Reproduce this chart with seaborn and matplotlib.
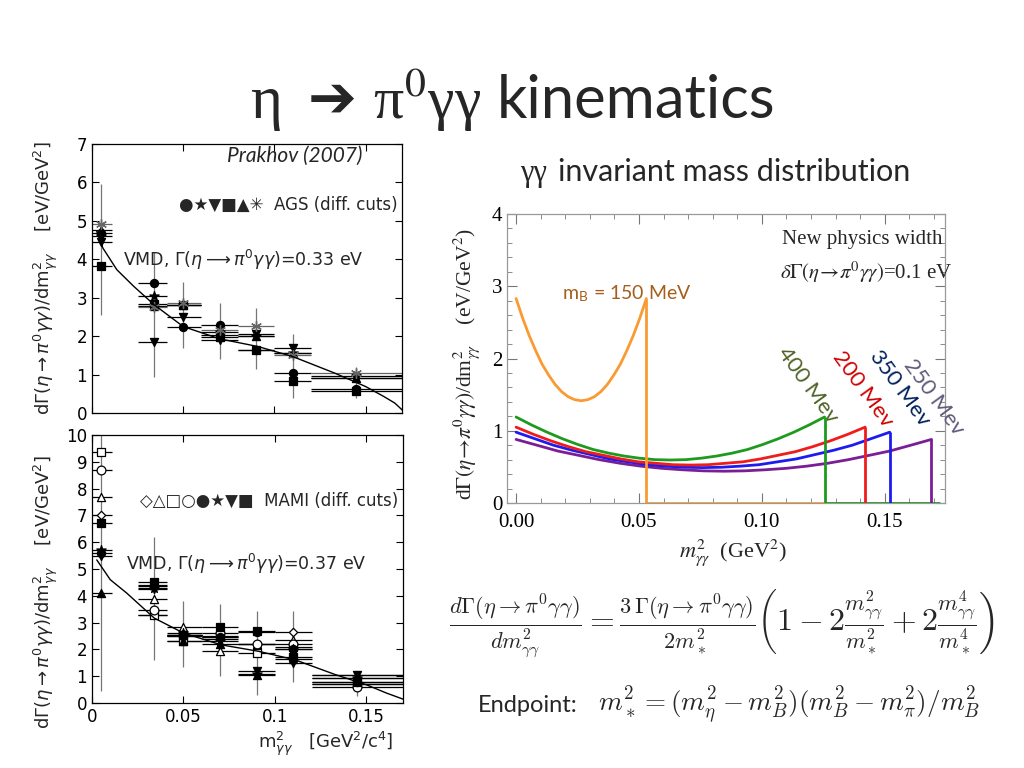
import numpy as np
import pandas as pd
import matplotlib
matplotlib.use('Agg')
import matplotlib.pyplot as plt
import seaborn as sns
from matplotlib.ticker import MultipleLocator, FormatStrFormatter

# ---- bins shared by both Prakhov panels ----
bin_x = [0.005, 0.034, 0.050, 0.070, 0.090, 0.110, 0.145]
bin_lo = [0.000, 0.025, 0.041, 0.060, 0.080, 0.100, 0.120]
bin_hi = [0.011, 0.041, 0.060, 0.080, 0.100, 0.120, 0.170]

# ---- AGS (top left) ----
ags_circle = [4.68, 3.37, 2.25, 2.30, 1.65, 1.05, 0.62]
ags_star = [4.60, 3.05, 2.80, 2.10, 2.00, 1.55, 0.95]
ags_tridown = [4.45, 1.85, 2.50, 1.90, 2.05, 1.68, 0.92]
ags_square = [3.83, 2.83, 2.82, 2.02, 1.65, 0.83, 0.58]
ags_triup = [4.75, 2.78, 2.80, 1.97, 2.00, 1.55, 0.90]
ags_aster = [4.92, 2.75, 2.85, 2.15, 2.27, 1.50, 1.03]
ags_err_lo = [2.55, 0.93, 1.70, 1.40, 1.15, 0.40, 0.40]
ags_err_hi = [5.97, 4.20, 3.40, 2.85, 2.73, 2.05, 1.20]
ags_vmd_x = [0.0026, 0.006, 0.0136, 0.0228, 0.034, 0.050, 0.070, 0.091, 0.110, 0.133, 0.150, 0.160, 0.166, 0.171]
ags_vmd_y = [4.73, 4.29, 3.73, 3.30, 2.82, 2.25, 1.93, 1.73, 1.47, 1.04, 0.69, 0.43, 0.26, 0.04]

# ---- MAMI (bottom left) ----
mami_diamond = [7.03, 3.30, 2.50, 2.45, 2.20, 2.65, 0.70]
mami_otri = [7.70, 3.89, 2.83, 1.93, 2.20, 2.35, 0.95]
mami_osquare = [9.38, 3.29, 2.30, 2.50, 1.86, 2.10, 0.70]
mami_ocircle = [8.70, 3.47, 2.55, 2.60, 2.20, 2.20, 0.60]
mami_circle = [5.60, 4.35, 2.50, 2.45, 2.65, 2.00, 0.80]
mami_star = [5.71, 4.30, 2.60, 2.30, 1.10, 2.00, 0.95]
mami_tridown = [5.49, 4.25, 2.55, 2.40, 1.20, 1.50, 1.05]
mami_square = [6.71, 4.50, 2.55, 2.85, 2.67, 1.71, 0.80]
mami_triup = [4.12, 4.40, 2.30, 2.20, 1.05, 1.65, 1.05]
mami_err_lo = [0.45, 1.60, 1.35, 1.00, 0.30, 0.80, 0.25]
mami_err_hi = [10.0, 6.20, 3.80, 3.70, 3.45, 3.45, 1.15]
mami_vmd_x = [0.0026, 0.010, 0.019, 0.034, 0.050, 0.0706, 0.091, 0.111, 0.133, 0.150, 0.161, 0.171]
mami_vmd_y = [5.34, 4.60, 4.10, 3.17, 2.61, 2.17, 1.93, 1.61, 1.06, 0.68, 0.37, 0.12]

# ---- new physics curves (right) ----
mb150_x = [0, 0.00265, 0.0053, 0.00795, 0.0106, 0.01325, 0.0159, 0.01855, 0.0212, 0.02385, 0.0265,
           0.02915, 0.0318, 0.03445, 0.0371, 0.03975, 0.0424, 0.04505, 0.0477, 0.05035, 0.0530]
mb150_y = [2.83, 2.56, 2.32, 2.11, 1.92, 1.77, 1.64, 1.54, 1.47, 1.43, 1.415,
           1.43, 1.47, 1.54, 1.64, 1.77, 1.92, 2.11, 2.32, 2.56, 2.83]
mb400_x = [0, 0.0063, 0.0126, 0.0188, 0.0251, 0.0314, 0.0377, 0.0439, 0.0502, 0.0565, 0.0628,
           0.0690, 0.0753, 0.0816, 0.0879, 0.0941, 0.1004, 0.1067, 0.1130, 0.1192, 0.1255]
mb400_y = [1.19, 1.08, 0.98, 0.89, 0.81, 0.74, 0.69, 0.65, 0.62, 0.60, 0.595,
           0.60, 0.62, 0.65, 0.69, 0.74, 0.81, 0.89, 0.98, 1.08, 1.19]
mb200_x = [0, 0.0071, 0.0142, 0.0213, 0.0284, 0.0355, 0.0426, 0.0497, 0.0568, 0.0639, 0.0710,
           0.0781, 0.0852, 0.0923, 0.0994, 0.1065, 0.1136, 0.1207, 0.1278, 0.1349, 0.1420]
mb200_y = [1.05, 0.95, 0.86, 0.78, 0.71, 0.66, 0.61, 0.57, 0.55, 0.53, 0.525,
           0.53, 0.55, 0.57, 0.61, 0.66, 0.71, 0.78, 0.86, 0.95, 1.05]
mb350_x = [0, 0.0076, 0.0152, 0.0228, 0.0304, 0.0380, 0.0456, 0.0532, 0.0608, 0.0684, 0.0760,
           0.0836, 0.0912, 0.0988, 0.1064, 0.1140, 0.1216, 0.1292, 0.1368, 0.1444, 0.1520]
mb350_y = [0.98, 0.89, 0.80, 0.73, 0.67, 0.61, 0.57, 0.53, 0.51, 0.495, 0.49,
           0.495, 0.51, 0.53, 0.57, 0.61, 0.67, 0.73, 0.80, 0.89, 0.98]
mb250_x = [0, 0.0085, 0.0169, 0.0254, 0.0338, 0.0423, 0.0507, 0.0592, 0.0676, 0.0761, 0.0845,
           0.0930, 0.1014, 0.1099, 0.1183, 0.1268, 0.1352, 0.1437, 0.1521, 0.1606, 0.1690]
mb250_y = [0.88, 0.80, 0.72, 0.66, 0.60, 0.55, 0.51, 0.48, 0.46, 0.445, 0.44,
           0.445, 0.46, 0.48, 0.51, 0.55, 0.60, 0.66, 0.72, 0.80, 0.88]

sns.set_theme(style='ticks')
plt.rcParams['font.family'] = ['DejaVu Sans']
plt.rcParams['mathtext.fontset'] = 'stix'

SLIDE = ['Lato', 'DejaVu Sans']
SERIF = ['Liberation Serif', 'DejaVu Serif', 'DejaVu Sans']

fig = plt.figure(figsize=(10.24, 7.68), dpi=100)


def fpos(x, y):
    return x / 1024, 1 - y / 768


def draw_points(ax, vals, marker, face, size=34, edge='black'):
    for i, v in enumerate(vals):
        ax.hlines(v, bin_lo[i], bin_hi[i], color='black', lw=0.9, zorder=2)
    sns.scatterplot(x=bin_x, y=vals, marker=marker, s=size, color=face,
                    edgecolor=edge, linewidth=0.9, ax=ax, zorder=4, legend=False)


def style_left(ax, ymax):
    ax.set_xlim(0, 0.17)
    ax.set_ylim(0, ymax)
    ax.xaxis.set_major_locator(MultipleLocator(0.05))
    ax.yaxis.set_major_locator(MultipleLocator(1))
    ax.tick_params(direction='in', top=True, right=True, length=5, width=0.8,
                   labelsize=12, colors='black')
    for sp in ax.spines.values():
        sp.set_color('black')
        sp.set_linewidth(0.9)
    ax.set_xlabel('')
    ax.set_ylabel('')


# ---------- top left ----------
ax1 = fig.add_axes([92 / 1024, 1 - 413 / 768, 310 / 1024, 269 / 768])
ax1.vlines(bin_x, ags_err_lo, ags_err_hi, color='#777777', lw=0.9, zorder=1)
draw_points(ax1, ags_circle, 'o', 'black')
draw_points(ax1, ags_star, '*', 'black', size=50)
draw_points(ax1, ags_tridown, 'v', 'black')
draw_points(ax1, ags_square, 's', 'black', size=30)
draw_points(ax1, ags_triup, '^', 'black')
for i, v in enumerate(ags_aster):
    ax1.hlines(v, bin_lo[i], bin_hi[i], color='#666666', lw=0.9, zorder=2)
ax1.scatter(bin_x, ags_aster, marker=(6, 2, 0), s=50, color='#666666', lw=1, zorder=4)
sns.lineplot(x=ags_vmd_x, y=ags_vmd_y, sort=False, estimator=None, color='black',
             lw=1.0, ax=ax1, zorder=5)
style_left(ax1, 7)
ax1.set_xticklabels([])
ax1.text(0.655, 0.955, 'Prakhov (2007)', transform=ax1.transAxes, ha='center',
         va='center', fontsize=15, style='italic', family=SLIDE)
ax1.text(0.985, 0.775, '●★▼■▲✳  AGS (diff. cuts)', transform=ax1.transAxes,
         ha='right', va='center', fontsize=12)
ax1.text(0.10, 0.57, r'VMD, $\Gamma(\eta \longrightarrow \pi^0\gamma\gamma)$=0.33 eV',
         transform=ax1.transAxes, ha='left', va='center', fontsize=12.5,
         math_fontfamily='dejavusans')

# ---------- bottom left ----------
ax2 = fig.add_axes([92 / 1024, 1 - 703 / 768, 311 / 1024, 268 / 768])
ax2.vlines(bin_x, mami_err_lo, mami_err_hi, color='#777777', lw=0.9, zorder=1)
draw_points(ax2, mami_diamond, 'D', 'white', size=18)
draw_points(ax2, mami_otri, '^', 'white')
draw_points(ax2, mami_osquare, 's', 'white', size=36)
draw_points(ax2, mami_ocircle, 'o', 'white', size=40)
draw_points(ax2, mami_circle, 'o', 'black')
draw_points(ax2, mami_star, '*', 'black', size=50)
draw_points(ax2, mami_tridown, 'v', 'black')
draw_points(ax2, mami_square, 's', 'black', size=34)
draw_points(ax2, mami_triup, '^', 'black')
sns.lineplot(x=mami_vmd_x, y=mami_vmd_y, sort=False, estimator=None, color='black',
             lw=1.0, ax=ax2, zorder=5)
style_left(ax2, 10)
ax2.xaxis.set_major_formatter(FormatStrFormatter('%g'))
ax2.text(0.985, 0.755, '◇△□○●★▼■  MAMI (diff. cuts)', transform=ax2.transAxes,
         ha='right', va='center', fontsize=12)
ax2.text(0.11, 0.52, r'VMD, $\Gamma(\eta \longrightarrow \pi^0\gamma\gamma)$=0.37 eV',
         transform=ax2.transAxes, ha='left', va='center', fontsize=12.5,
         math_fontfamily='dejavusans')

ylab = r'd$\Gamma(\eta\rightarrow\pi^0\gamma\gamma)$/dm$^2_{\gamma\gamma}$    [eV/GeV$^2$]'
fig.text(*fpos(46, 278), ylab, rotation=90, ha='center', va='center', fontsize=13,
         math_fontfamily='dejavusans')
fig.text(*fpos(46, 592), ylab, rotation=90, ha='center', va='center', fontsize=13,
         math_fontfamily='dejavusans')
fig.text(*fpos(326, 744), r'm$^2_{\gamma\gamma}$   [GeV$^2$/c$^4$]', ha='center',
         va='center', fontsize=13, math_fontfamily='dejavusans')

# ---------- right panel ----------
ax3 = fig.add_axes([507 / 1024, 1 - 503 / 768, 438 / 1024, 289 / 768])
curves = [
    (mb250_x, mb250_y, '#7B1E96'),
    (mb350_x, mb350_y, '#1C1CF0'),
    (mb200_x, mb200_y, '#F01C1C'),
    (mb400_x, mb400_y, '#1E9A1E'),
    (mb150_x, mb150_y, '#FA9A32'),
]
for k, (cx, cy, col) in enumerate(curves):
    sns.lineplot(x=cx, y=cy, sort=False, estimator=None, color=col, lw=2.0,
                 ax=ax3, zorder=4 + k)
    ax3.vlines(cx[-1], 0, cy[-1], color=col, lw=2.0, zorder=4 + k)
ax3.hlines(0, mb150_x[-1], mb400_x[-1], color='#FA9A32', lw=2.0, zorder=3)
ax3.hlines(0, mb400_x[-1], 0.1725, color='#1E9A1E', lw=2.0, zorder=3)

ax3.set_xlim(-0.0037, 0.1745)
ax3.set_ylim(0, 4)
ax3.xaxis.set_major_locator(MultipleLocator(0.05))
ax3.xaxis.set_minor_locator(MultipleLocator(0.01))
ax3.yaxis.set_major_locator(MultipleLocator(1))
ax3.yaxis.set_minor_locator(MultipleLocator(0.2))
ax3.xaxis.set_major_formatter(FormatStrFormatter('%.2f'))
ax3.tick_params(which='both', direction='in', top=True, right=True, colors='#777777',
                labelcolor='black', labelsize=15)
ax3.tick_params(which='major', length=7, width=0.8)
ax3.tick_params(which='minor', length=3.5, width=0.6)
ax3.tick_params(axis='x', pad=7)
for lab in ax3.get_xticklabels() + ax3.get_yticklabels():
    lab.set_family(SERIF)
for sp in ax3.spines.values():
    sp.set_color('#999999')
    sp.set_linewidth(0.9)
ax3.set_xlabel('')
ax3.set_ylabel('')

ax3.text(0.81, 3.65, 'New physics width', transform=ax3.get_yaxis_transform(),
         ha='center', va='center', fontsize=15, family=SERIF)
ax3.text(0.82, 3.19, r'$\delta\Gamma(\eta\!\rightarrow\!\pi^0\gamma\gamma)$=0.1 eV',
         transform=ax3.get_yaxis_transform(), ha='center', va='center', fontsize=15,
         family=SERIF)
ax3.text(0.0185, 2.9, r'm$_\mathregular{B}$ = 150 MeV', ha='left', va='center',
         fontsize=14, color='#A65E1B', family=SLIDE)
ax3.text(0.1187, 1.63, '400 Mev', rotation=-54, ha='center', va='center', fontsize=16,
         color='#4F6228', family=SLIDE)
ax3.text(0.1411, 1.57, '200 Mev', rotation=-54, ha='center', va='center', fontsize=16,
         color='#D00000', family=SLIDE)
ax3.text(0.1561, 1.59, '350 Mev', rotation=-54, ha='center', va='center', fontsize=16,
         color='#002060', family=SLIDE)
ax3.text(0.1700, 1.47, '250 Mev', rotation=-54, ha='center', va='center', fontsize=16,
         color='#5F5A7A', family=SLIDE)

fig.text(*fpos(467, 364),
         r'd$\Gamma(\eta\!\rightarrow\!\pi^0\gamma\gamma)$/dm$^2_{\gamma\gamma}$    (eV/GeV$^2$)',
         rotation=90, ha='center', va='center', fontsize=15.5, family=SERIF)
fig.text(*fpos(733, 553), r'$m^2_{\gamma\gamma}$  (GeV$^2$)', ha='center', va='center',
         fontsize=16, family=SERIF)

# ---------- slide texts ----------
fig.text(*fpos(250, 118), 'η', ha='left', va='baseline', fontsize=44, family=SERIF)
fig.text(*fpos(332, 100), '➔', ha='center', va='center', fontsize=42,
         family=['DejaVu Sans'])
fig.text(*fpos(481, 118), r'π$^{\mathrm{0}}$γγ', ha='right', va='baseline',
         fontsize=43, family=SERIF, math_fontfamily='stix')
fig.text(*fpos(497, 118), 'kinematics', ha='left', va='baseline', fontsize=43,
         family=SLIDE)
fig.text(*fpos(520, 181), 'γγ', ha='left', va='baseline', fontsize=22, family=SERIF)
fig.text(*fpos(558, 181), 'invariant mass distribution', ha='left',
         va='baseline', fontsize=22, family=SLIDE)

fig.text(*fpos(722, 623),
         r'$\frac{d\Gamma(\eta\to\pi^0\gamma\gamma)}{dm^2_{\gamma\gamma}}'
         r'=\frac{3\,\Gamma(\eta\to\pi^0\gamma\gamma)}{2m^2_*}'
         r'\left(1-2\frac{m^2_{\gamma\gamma}}{m^2_*}+2\frac{m^4_{\gamma\gamma}}{m^4_*}\right)$',
         ha='center', va='center', fontsize=23, math_fontfamily='cm')
fig.text(*fpos(478, 706), 'Endpoint:', ha='left', va='center', fontsize=17, family=SLIDE)
fig.text(*fpos(598, 706), r'$m^2_* = (m^2_\eta - m^2_B)(m^2_B - m^2_\pi)/m^2_B$',
         ha='left', va='center', fontsize=19.5, math_fontfamily='cm')

fig.savefig('out.png', dpi=100)
